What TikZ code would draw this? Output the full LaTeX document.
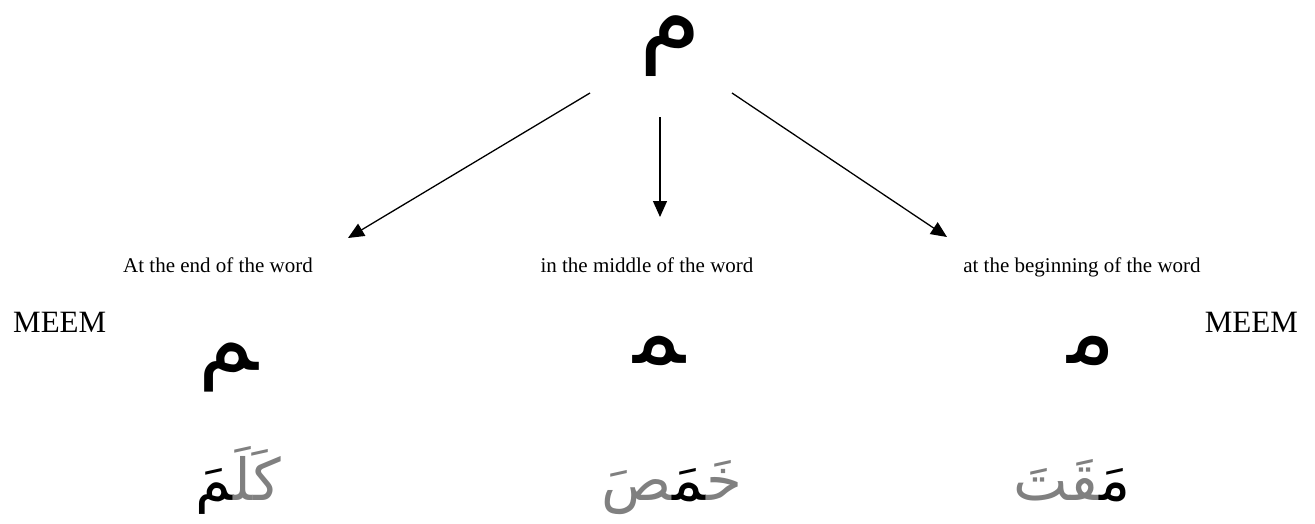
\documentclass[tikz,border=0pt]{standalone}
\usepackage{fontspec}
\setmainfont{Liberation Serif}
\newfontfamily\arabicfont[Script=Arabic]{DejaVu Sans}
\usetikzlibrary{arrows.meta}
\definecolor{wordgray}{RGB}{128,128,128}
\tikzset{
  lbl/.style={font=\fontsize{21pt}{25pt}\selectfont, anchor=base, inner sep=0pt},
  meemlbl/.style={font=\fontsize{31pt}{36pt}\selectfont, inner sep=0pt},
  bigmeem/.style={font=\arabicfont\fontsize{100pt}{110pt}\selectfont, anchor=base, inner sep=0pt},
  form/.style={font=\arabicfont\fontsize{90pt}{100pt}\selectfont, anchor=base, inner sep=0pt},
  word/.style={font=\arabicfont\fontsize{58pt}{64pt}\selectfont, anchor=base, inner sep=0pt},
  arr/.style={line width=1.3pt, -{Triangle[length=16pt,width=14pt]}}
}
\begin{document}
\begin{tikzpicture}[x=1pt,y=-1pt]
\useasboundingbox (0,0) rectangle (1315,523);
% top letter
\node[bigmeem] (top) at (670,52) {م};
% arrows
\coordinate (s1) at (590,93);
\coordinate (e1) at (348,238);
\coordinate (s2) at (660,117);
\coordinate (e2) at (660,217);
\coordinate (s3) at (732,93);
\coordinate (e3) at (947,237);
\draw[arr] (s1) -- (e1);
\draw[arr] (s2) -- (e2);
\draw[arr] (s3) -- (e3);
% labels
\node[lbl] (lend) at (218,272) {At the end of the word};
\node[lbl] (lmid) at (647,272) {in the middle of the word};
\node[lbl] (lbeg) at (1082,272) {at the beginning of the word};
\node[meemlbl, anchor=base west] (meemL) at (13,332) {MEEM};
\node[meemlbl, anchor=base east] (meemR) at (1298,332) {MEEM};
% letter forms
\node[form] (ffin) at (228,370) {^^^^200dم};
\node[form] (fmid) at (659,363) {^^^^200dم^^^^200d};
\node[form] (fini) at (1092,363) {م^^^^200d};
% words (runs written in visual order, left to right)
\node[word] (wfin) at (238,500) {^^^^200dمَ{\color{wordgray}كَلَ^^^^200d}};
\node[word] (wmid) at (672,500) {{\color{wordgray}^^^^200dصَ}^^^^200dمَ^^^^200d{\color{wordgray}خَ^^^^200d}};
\node[word] (wini) at (1072,500) {{\color{wordgray}^^^^200dقَتَ}مَ^^^^200d};
\end{tikzpicture}
\end{document}
